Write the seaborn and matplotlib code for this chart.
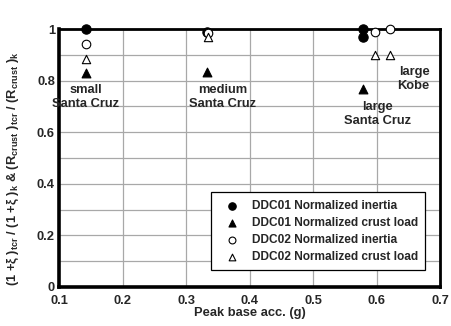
import matplotlib
matplotlib.use("Agg")
import matplotlib.pyplot as plt
import seaborn as sns
import pandas as pd

# ---- data ----
ddc01_inertia_x = [0.142, 0.333, 0.578, 0.578]
ddc01_inertia_y = [1.0, 0.988, 1.0, 0.968]
ddc01_crust_x = [0.142, 0.333, 0.578]
ddc01_crust_y = [0.828, 0.834, 0.766]
ddc02_inertia_x = [0.142, 0.335, 0.597, 0.621]
ddc02_inertia_y = [0.942, 0.985, 0.987, 0.999]
ddc02_crust_x = [0.142, 0.335, 0.597, 0.621]
ddc02_crust_y = [0.882, 0.970, 0.899, 0.899]

labels = ["DDC01 Normalized inertia", "DDC01 Normalized crust load",
          "DDC02 Normalized inertia", "DDC02 Normalized crust load"]
annotations = ["small\nSanta Cruz", "medium\nSanta Cruz", "large\nKobe", "large\nSanta Cruz"]
ann_x = [0.142, 0.357, 0.683, 0.602]
ann_y = [0.785, 0.785, 0.855, 0.722]
ann_ha = ["center", "center", "right", "center"]

xticks = [0.1, 0.2, 0.3, 0.4, 0.5, 0.6, 0.7]
yticks = [0, 0.2, 0.4, 0.6, 0.8, 1.0]
ytick_labels = ["0", "0.2", "0.4", "0.6", "0.8", "1"]

sns.set_theme(style="white")
plt.rcParams["font.family"] = ["Liberation Sans", "DejaVu Sans"]
plt.rcParams["font.weight"] = "bold"
plt.rcParams["mathtext.fontset"] = "custom"
plt.rcParams["mathtext.rm"] = "Liberation Sans:bold"
plt.rcParams["mathtext.it"] = "Liberation Sans:bold"
plt.rcParams["mathtext.bf"] = "Liberation Sans:bold"

fig = plt.figure(figsize=(4.51, 3.26), dpi=100)
ax = fig.add_axes([0.131, 0.12, 0.845, 0.791])

fs = 9.3
fs_leg = 8.6
series = [
    (ddc01_inertia_x, ddc01_inertia_y, "o", "black", "black", 45),
    (ddc01_crust_x, ddc01_crust_y, "^", "black", "black", 40),
    (ddc02_inertia_x, ddc02_inertia_y, "o", "white", "black", 38),
    (ddc02_crust_x, ddc02_crust_y, "^", "white", "black", 36),
]
for (xs, ys, m, fc, ec, s), lab in zip(series, labels):
    df = pd.DataFrame({"x": xs, "y": ys})
    sns.scatterplot(data=df, x="x", y="y", marker=m, color=fc, edgecolor=ec,
                    linewidth=0.8, s=s, ax=ax, label=lab, clip_on=False, zorder=5)

ax.set_xlim(0.1, 0.7)
ax.set_ylim(0, 1)
ax.set_xticks(xticks)
ax.set_xticklabels([f"{t:.1f}" for t in xticks], fontsize=fs, fontweight="bold")
ax.set_yticks(yticks)
ax.set_yticklabels(ytick_labels, fontsize=fs, fontweight="bold")
ax.set_yticks([0.1, 0.3, 0.5, 0.7, 0.9], minor=True)
ax.grid(True, which="both", axis="y", color="#a8a8a8", linewidth=0.9)
ax.grid(True, which="major", axis="x", color="#a8a8a8", linewidth=0.9)
ax.set_axisbelow(True)
ax.tick_params(axis="y", which="both", length=0, pad=3)
ax.tick_params(axis="x", which="both", length=0, pad=6)

for side, lw in [("left", 2.6), ("bottom", 2.6), ("top", 2.0), ("right", 2.0)]:
    ax.spines[side].set_visible(True)
    ax.spines[side].set_color("black")
    ax.spines[side].set_linewidth(lw)

ax.set_xlabel("Peak base acc. (g)", fontsize=fs, fontweight="bold", labelpad=0)
ax.set_ylabel(r"(1 +$\xi$ )$_{tcr}$ / (1 +$\xi$ )$_{k}$ & (R$_{crust}$ )$_{tcr}$ / (R$_{crust}$ )$_{k}$",
              fontsize=fs, fontweight="bold")
ax.yaxis.set_label_coords(-0.1, 0.46)

for t, x, y, ha in zip(annotations, ann_x, ann_y, ann_ha):
    ax.text(x, y, t, ha=ha, va="top", fontsize=fs, fontweight="bold",
            linespacing=1.2, zorder=6)

leg = ax.legend(loc="lower right", bbox_to_anchor=(0.961, 0.066), borderaxespad=0,
                fontsize=fs_leg, frameon=True, fancybox=False, handletextpad=0.5,
                labelspacing=0.42, borderpad=0.6, handlelength=2.3, markerscale=0.8)
leg.get_frame().set_edgecolor("black")
leg.get_frame().set_linewidth(0.9)
leg.get_frame().set_alpha(1)
for txt in leg.get_texts():
    txt.set_fontweight("bold")

fig.savefig("out.png", dpi=100)
